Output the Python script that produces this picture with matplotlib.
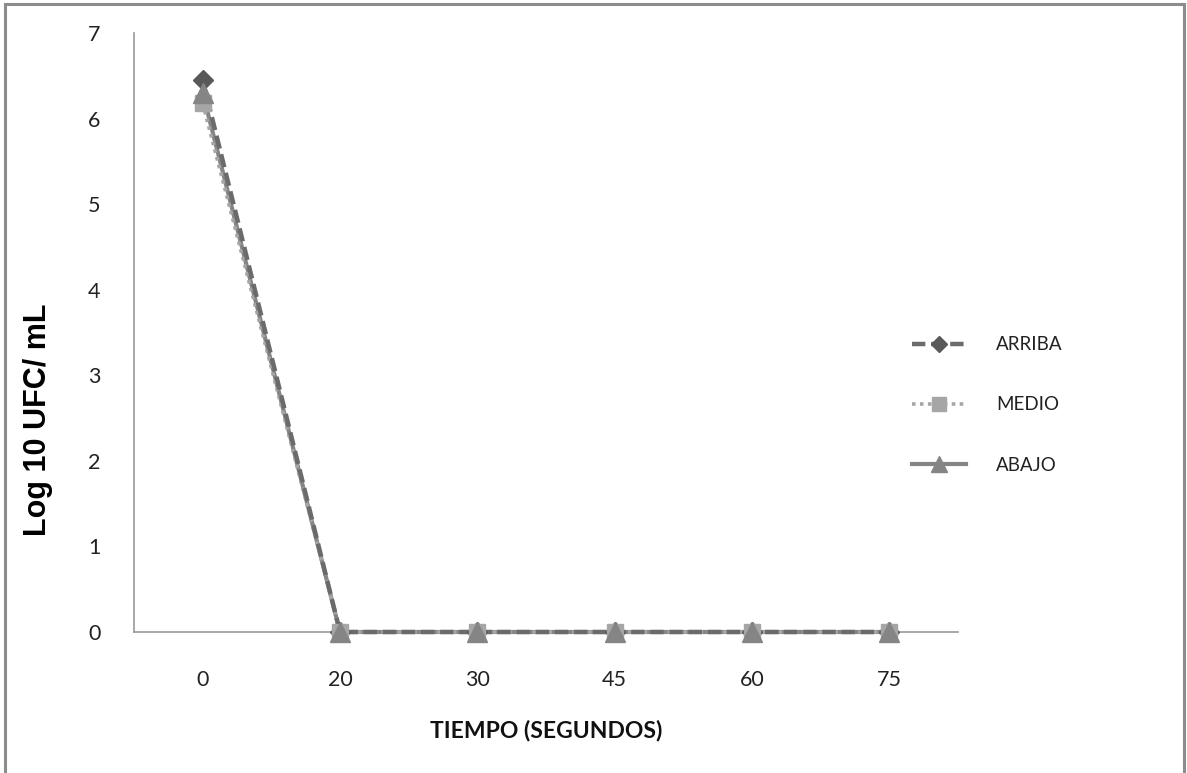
import matplotlib
matplotlib.use("Agg")
import matplotlib.pyplot as plt
from matplotlib.patches import Rectangle
from matplotlib.lines import Line2D

# Tiempo de exposición (segundos) y recuentos en log10 UFC/mL
tiempos = ["0", "20", "30", "45", "60", "75"]
arriba = [6.45, 0, 0, 0, 0, 0]
medio = [6.18, 0, 0, 0, 0, 0]
abajo = [6.30, 0, 0, 0, 0, 0]
y_ticks = [0, 1, 2, 3, 4, 5, 6, 7]

W, H = 1187, 773
fig = plt.figure(figsize=(W / 100, H / 100), dpi=100)
fig.patch.set_facecolor("white")

# marco exterior gris
fig.patches.append(Rectangle((4.5 / W, -0.01), (1184 - 4.5) / W, 1 - 3.5 / H + 0.01,
                             transform=fig.transFigure, fill=False,
                             edgecolor="#8c8c8c", linewidth=2.2))

left, right = 134 / W, 958 / W
bottom, top = (H - 632) / H, (H - 33) / H
ax = fig.add_axes([left, bottom, right - left, top - bottom])

x = list(range(len(tiempos)))

series = [
    # nombre, valores, color línea, estilo, ancho, marcador, tamaño, color marcador
    ("ARRIBA", arriba, "#6b6b6b", (0, (3, 1.3)), 3.2, "D", 10, "#595959"),
    ("MEDIO", medio, "#a6a6a6", (0, (1, 1.2)), 2.6, "s", 12, "#a6a6a6"),
    ("ABAJO", abajo, "#858585", "-", 3.0, "^", 14, "#858585"),
]
line_z = {"ARRIBA": 5, "MEDIO": 4, "ABAJO": 3}
mark_z = {"ARRIBA": 6, "MEDIO": 7, "ABAJO": 8}

handles = []
for name, vals, lc, ls, lw, mk, ms, mc in series:
    ax.plot(x, vals, color=lc, linestyle=ls, linewidth=lw, zorder=line_z[name],
            clip_on=False)
    ax.plot(x, vals, linestyle="none", marker=mk, markersize=ms,
            markerfacecolor=mc, markeredgecolor=mc, zorder=mark_z[name],
            clip_on=False)
    handles.append(Line2D([], [], color=lc, linestyle=ls, linewidth=lw,
                          marker=mk, markersize=ms * 0.85,
                          markerfacecolor=mc, markeredgecolor=mc, label=name))

ax.set_xlim(-0.5, len(tiempos) - 0.5)
ax.set_ylim(0, 7)
ax.set_xticks(x)
ax.set_xticklabels(tiempos)
ax.set_yticks(y_ticks)

for s in ["top", "right"]:
    ax.spines[s].set_visible(False)
for s in ["left", "bottom"]:
    ax.spines[s].set_color("#9a9a9a")
    ax.spines[s].set_linewidth(1.2)
ax.spines["bottom"].set_zorder(1)

ax.tick_params(axis="both", length=0, labelsize=15.5, colors="#222222")
ax.tick_params(axis="x", pad=27)
ax.tick_params(axis="y", pad=24)
for lab in ax.get_xticklabels() + ax.get_yticklabels():
    lab.set_family("Lato")

ax.set_xlabel("TIEMPO (SEGUNDOS)", family="Lato", fontweight="bold",
              fontsize=16.5, color="#111111", labelpad=22)
ax.set_ylabel("Log 10 UFC/ mL", family="Liberation Sans", fontweight="bold",
              fontsize=22, color="#000000")
ax.yaxis.set_label_coords(-0.098, 0.355)

leg = fig.legend(handles, [h.get_label() for h in handles],
                 loc="center left", bbox_to_anchor=(895 / W, (H - 405) / H),
                 frameon=False, prop={"family": "Lato", "size": 13.5},
                 labelspacing=2.3, handlelength=2.9, handletextpad=1.6)
for t in leg.get_texts():
    t.set_color("#222222")

fig.savefig("out.png", dpi=100, facecolor="white")
